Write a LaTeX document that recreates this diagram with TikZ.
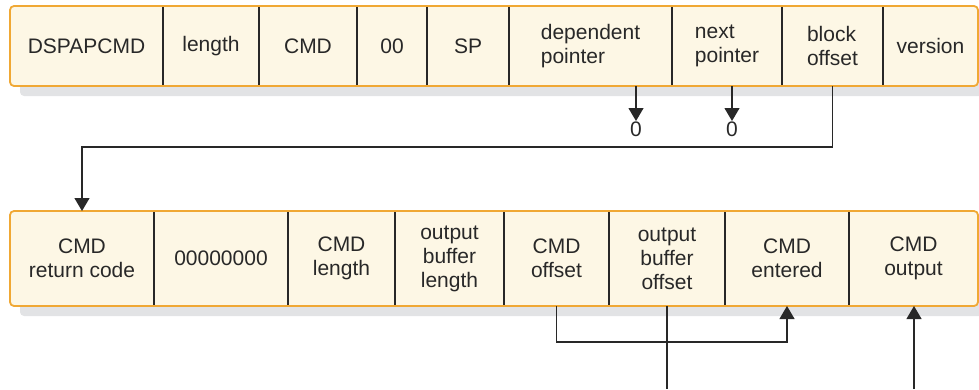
\documentclass[tikz,border=0pt]{standalone}
\usepackage{fontspec}
\setmainfont{Liberation Sans}
\usepackage{tikz}
\usetikzlibrary{positioning,calc,backgrounds}
\usetikzlibrary{arrows.meta}
\definecolor{CellFill}{RGB}{253,247,229}
\definecolor{FrameOrange}{RGB}{240,168,52}
\definecolor{ShadowGray}{RGB}{226,227,229}
\definecolor{Ink}{RGB}{40,40,40}
\tikzset{
	cell/.style={inner sep=0pt,outer sep=0pt,text=Ink,font=\fontsize{21}{24}\selectfont},
	toprow/.style={cell,minimum height=80pt,align=left},
	lowrow/.style={cell,minimum height=95pt,align=center},
	divider/.style={draw=Ink,line width=1.1pt},
	frame/.style={draw=FrameOrange,line width=1.8pt,rounded corners=4pt},
	shadowbox/.style={fill=ShadowGray,rounded corners=4pt},
	link/.style={draw=Ink,line width=1.2pt,-{Triangle[width=15pt,length=13pt]}},
	plain/.style={draw=Ink,line width=1.2pt},
	zerolabel/.style={inner sep=1pt,text=Ink,font=\fontsize{21}{24}\selectfont},
}

\begin{document}
\begin{tikzpicture}[x=1pt,y=-1pt]
	\useasboundingbox (0,0) rectangle (979,389);
	% top block
	\node[toprow,minimum width=153pt,anchor=north west] (dspap) at (10,6) {DSPAPCMD};
	\node[toprow,minimum width=96pt,right=0pt of dspap] (len) {length};
	\node[toprow,minimum width=98pt,right=0pt of len] (cmd) {CMD};
	\node[toprow,minimum width=70pt,right=0pt of cmd] (zero) {00};
	\node[toprow,minimum width=82pt,right=0pt of zero] (sp) {SP};
	\node[toprow,minimum width=163pt,right=0pt of sp] (dep) {dependent\\pointer};
	\node[toprow,minimum width=110pt,right=0pt of dep] (nxt) {next\\pointer};
	\node[toprow,minimum width=101pt,right=0pt of nxt] (blk) {block\\offset};
	\node[toprow,minimum width=95pt,right=0pt of blk] (ver) {version};
	% lower block
	\node[lowrow,minimum width=144pt,anchor=north west] (ret) at (10,211) {CMD\\return code};
	\node[lowrow,minimum width=134pt,right=0pt of ret] (pad) {00000000};
	\node[lowrow,minimum width=107pt,right=0pt of pad] (clen) {CMD\\length};
	\node[lowrow,minimum width=109pt,right=0pt of clen] (obl) {output\\buffer\\length};
	\node[lowrow,minimum width=105pt,right=0pt of obl] (coff) {CMD\\offset};
	\node[lowrow,minimum width=116pt,right=0pt of coff] (obo) {output\\buffer\\offset};
	\node[lowrow,minimum width=124pt,right=0pt of obo] (ent) {CMD\\entered};
	\node[lowrow,minimum width=129pt,right=0pt of ent] (cout) {CMD\\output};
	\begin{scope}[on background layer]
		\fill[shadowbox] ($(dspap.north west)+(10pt,-10pt)$) rectangle ($(ver.south east)+(10pt,-10pt)$);
		\fill[shadowbox] ($(ret.north west)+(10pt,-10pt)$) rectangle ($(cout.south east)+(10pt,-10pt)$);
		\fill[CellFill,rounded corners=4pt] (dspap.north west) rectangle (ver.south east);
		\fill[CellFill,rounded corners=4pt] (ret.north west) rectangle (cout.south east);
	\end{scope}
	\foreach \c in {dspap,len,cmd,zero,sp,dep,nxt,blk}
		\draw[divider] (\c.north east) -- (\c.south east);
	\foreach \c in {ret,pad,clen,obl,coff,obo,ent}
		\draw[divider] (\c.north east) -- (\c.south east);
	\draw[frame] (dspap.north west) rectangle (ver.south east);
	\draw[frame] (ret.north west) rectangle (cout.south east);
	% pointers
	\node[zerolabel,anchor=north] (dep0) at (636,121) {0};
	\node[zerolabel,anchor=north] (nxt0) at (732,121) {0};
	\draw[link] (dep.south -| dep0) -- (dep0.north);
	\draw[link] (nxt.south -| nxt0) -- (nxt0.north);
	\draw[link] (blk.south) -- ++(0,61) -| (ret.north);
	\draw[link] (coff.south) -- ++(0,36) -| (ent.south);
	\coordinate (oboend) at (667,389);
	\coordinate (coutstart) at (914,389);
	\draw[plain] (obo.south) -- (obo.south |- oboend);
	\draw[link] (coutstart) -- (coutstart |- cout.south);
\end{tikzpicture}
\end{document}
